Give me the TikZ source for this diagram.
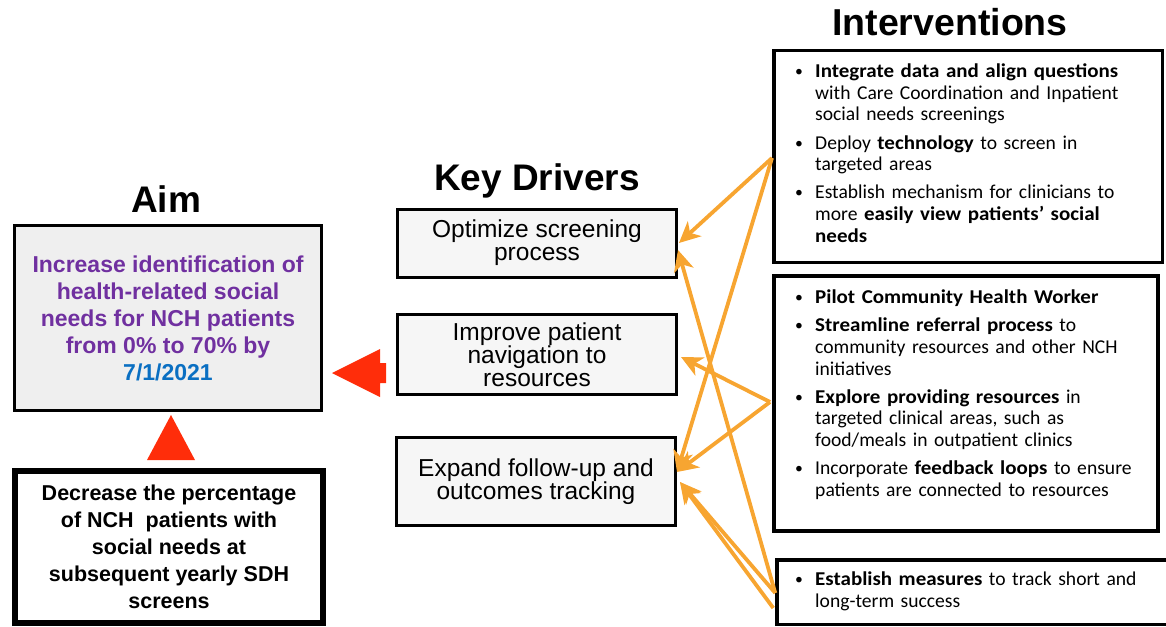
\documentclass[tikz,border=0pt]{standalone}
\usepackage{fontspec}
\setmainfont{Liberation Sans}
\newfontfamily\calfont{Carlito}[BoldFeatures={FakeStretch=1.07}]
\usetikzlibrary{arrows.meta,calc}
\definecolor{linkorange}{HTML}{F7A531}
\definecolor{aimpurple}{HTML}{7030A0}
\definecolor{aimblue}{HTML}{0A6FC2}
\definecolor{signred}{HTML}{FF2D0A}
\definecolor{aimgray}{HTML}{EFEFEF}
\definecolor{drivergray}{HTML}{F6F6F6}
% manual line break inside a bullet paragraph (keeps the hanging indent)
\newcommand\brk{\hfil\break}
% one bullet paragraph with hanging indent
\newcommand\bitem[1]{\hangindent=20pt\hangafter=1\noindent\hbox to 20pt{\raisebox{1pt}{\scalebox{0.8}{\textbullet}}\hss}#1\par}
\newcommand\itemgap{\vskip6.5pt}

\begin{document}
\begin{tikzpicture}[x=1pt,y=-1pt,
  heading/.style={font=\fontsize{37}{40}\selectfont\bfseries, anchor=base, inner sep=0pt},
  driverbox/.style={draw, line width=3pt, fill=drivergray, minimum width=279pt,
    align=center, font=\fontsize{24.5}{23}\selectfont, inner sep=0pt},
  ibox/.style={draw, fill=white, inner sep=0pt},
  itext/.style={anchor=north west, inner sep=0pt, text width=370pt, align=left,
    font=\calfont\fontsize{19.6}{21.7}\selectfont},
  link/.style={draw=linkorange, line width=3.8pt,
    -{Stealth[length=21pt,width=20pt,inset=6pt]}}
]
\useasboundingbox (0,0) rectangle (1166,626);

% headings
\node[heading] (haim) at (166,212) {Aim};
\node[heading] (hkd) at (537,190) {Key Drivers};
\node[heading, font=\fontsize{37.5}{40}\selectfont\bfseries] (hint) at (950,36) {Interventions};

% aim
\node[draw, line width=3pt, fill=aimgray, minimum width=307pt, minimum height=185pt,
  align=center, text=aimpurple, inner sep=0pt,
  font=\fontsize{23}{27}\selectfont\bfseries] (aim) at (168,318)
  {Increase identification of\\health-related social\\needs for NCH patients\\from 0\% to 70\% by\\\textcolor{aimblue}{7/1/2021}};

% secondary aim
\node[draw, line width=6pt, fill=white, minimum width=308pt, minimum height=152pt,
  align=center, inner sep=0pt, font=\fontsize{21.5}{27}\selectfont\bfseries] (sec) at (169,547)
  {Decrease the percentage\\of NCH\ \ patients with\\social needs at\\subsequent yearly SDH\\screens};

% red block arrows
\fill[signred] (147,460) -- (171,415) -- (195,460) -- cycle;
\fill[signred] (332,373) -- (380,349) -- (380,363) -- (386,363) -- (386,383)
  -- (380,383) -- (380,397) -- cycle;

% key drivers
\node[driverbox, minimum height=68pt] (opt) at (537,243) {Optimize screening\\process};
\node[driverbox, minimum height=80pt] (imp) at (537,354.5) {Improve patient\\navigation to\\resources};
\node[driverbox, minimum height=88pt] (exp) at (536,481.5) {Expand follow-up and\\outcomes tracking};

% intervention boxes
\node[ibox, line width=3.5pt, minimum width=388.5pt, minimum height=211.5pt] (i1) at (968,156.5) {};
\node[ibox, line width=4pt, minimum width=384pt, minimum height=255pt] (i2) at (966,403.5) {};
\node[ibox, line width=3.5pt, minimum width=396pt, minimum height=64.5pt] (i3) at (975,592) {};

\node[itext] (t1) at (795,63.5) {%
  \bitem{\textbf{Integrate data and align questions}\brk with Care Coordination and Inpatient\brk social needs screenings}\itemgap
  \bitem{Deploy \textbf{technology} to screen in\brk targeted areas}\itemgap
  \bitem{Establish mechanism for clinicians to\brk more \textbf{easily view patients’ social}\brk \textbf{needs}}};

\node[itext] (t2) at (795,289.5) {%
  \bitem{\textbf{Pilot Community Health Worker}}\itemgap
  \bitem{\textbf{Streamline referral process} to\brk community resources and other NCH\brk initiatives}\itemgap
  \bitem{\textbf{Explore providing resources} in\brk targeted clinical areas, such as\brk food/meals in outpatient clinics}\itemgap
  \bitem{Incorporate \textbf{feedback loops} to ensure\brk patients are connected to resources}};

\node[itext] (t3) at (795,571.5) {%
  \bitem{\textbf{Establish measures} to track short and\brk long-term success}};

% connector end points on the intervention boxes
\coordinate (s1) at ($(i1.west)+(0,1.5)$);
\coordinate (s2) at ($(i2.west)+(-2,-1.5)$);
\coordinate (s3) at ($(i3.west)+(0,1)$);
\coordinate (s3b) at ($(i3.west)+(-2,16)$);

% connectors
\draw[link] (s1) -- ($(opt.east)+(1,0)$);
\draw[link] (s1) -- ($(exp.east)+(0,-9.5)$);
\draw[link] (s2) -- ($(imp.east)+(3,2.5)$);
\draw[link] (s2) -- ($(exp.east)+(0,-9.5)$);
\draw[link] (s3) -- ($(opt.east)+(0,7)$);
\draw[link] (s3) -- ($(exp.east)+(3,0.5)$);
\draw[link] (s3b) -- ($(exp.east)+(3,0.5)$);
\end{tikzpicture}
\end{document}
